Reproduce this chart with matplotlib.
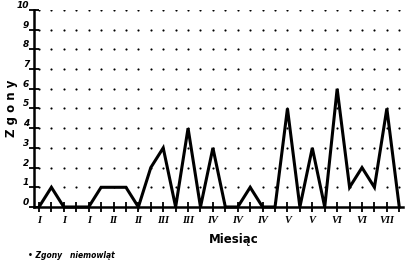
import matplotlib
matplotlib.use("Agg")
import matplotlib.pyplot as plt
import numpy as np

deaths = [0, 1, 0, 0, 0, 1, 1, 1, 0, 2, 3, 0, 4, 0, 3, 0, 0, 1, 0, 0, 5, 0, 3, 0, 6, 1, 2, 1, 5, 0]
month_labels = ["I", "", "I", "", "I", "", "II", "", "II", "", "III", "", "III", "",
                "IV", "", "IV", "", "IV", "", "V", "", "V", "", "VI", "", "VI", "", "VII", ""]
y_ticks = list(range(0, 11))

W, H = 405, 265
fig = plt.figure(figsize=(W / 100, H / 100), dpi=100)
ax = fig.add_axes([34 / W, 1 - 207 / H, (403 - 34) / W, (207 - 10) / H])

x = np.arange(len(deaths))
ax.set_xlim(-0.4, len(deaths) - 1 + 0.3)
ax.set_ylim(0, 10)

# dotted grid (dots at each tick intersection)
gx, gy = np.meshgrid(x, y_ticks[1:])
ax.scatter(gx.ravel(), gy.ravel(), s=2.4, color="black", linewidths=0, zorder=1)

ax.plot(x, deaths, color="black", lw=2.2, solid_joinstyle="miter", clip_on=False, zorder=3)

for s in ["top", "right"]:
    ax.spines[s].set_visible(False)
ax.spines["left"].set_linewidth(1.8)
ax.spines["bottom"].set_linewidth(1.8)

ax.set_xticks(x)
ax.set_xticklabels(month_labels, fontfamily="Liberation Serif", fontstyle="italic",
                   fontweight="bold", fontsize=7.5)
ax.tick_params(axis="x", direction="inout", length=7, width=1.3, pad=3)

ax.set_yticks(y_ticks)
ax.set_yticklabels([str(v) for v in y_ticks], fontfamily="DejaVu Sans", fontstyle="italic",
                   fontweight="bold", fontsize=6.5)
ax.tick_params(axis="y", direction="inout", length=7, width=1.3, pad=0)
for lab in ax.get_yticklabels():
    lab.set_va("bottom")

fig.text(12 / W, 1 - 108 / H, "Z g o n y", ha="center", va="center", rotation=90,
         fontsize=8.5, fontweight="bold")
fig.text(234 / W, 1 - 240 / H, "Miesiąc", ha="center", va="center",
         fontsize=8.5, fontweight="bold")
fig.text(28 / W, 1 - 256 / H, "• Zgony   niemowląt", ha="left", va="center",
         fontsize=5.5, fontweight="bold", fontstyle="italic")

fig.savefig("out.png", dpi=100)
